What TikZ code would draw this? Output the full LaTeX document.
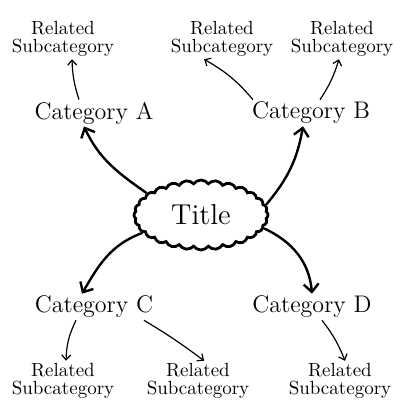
\documentclass[tikz,border=0pt]{standalone}
\usepackage{tikz}
\usetikzlibrary{arrows.meta,shapes.symbols}
\tikzset{
	catnode/.style={font=\large, inner sep=1pt},
	subnode/.style={font=\fontsize{9.5}{9.3}\selectfont, align=center, inner sep=1pt},
	mainarrow/.style={line width=1.2pt, -{Straight Barb[length=4pt,width=7.5pt,line width=1.2pt]}},
	subarrow/.style={line width=0.6pt, -{Straight Barb[length=2.5pt,width=4.5pt]}},
}

\begin{document}
\begin{tikzpicture}[x=0.5pt, y=-0.5pt]
		%%%%% START %%%%%
		
		\useasboundingbox (0, 0) rectangle (408, 413);
		
		\node[cloud, draw, line width=1.4pt, cloud puffs=28, cloud puff arc=110, aspect=2, minimum width=67pt, minimum height=35pt, inner sep=0pt, font=\Large] (title) at (201, 215) {Title};
		
		\node[catnode] (catA) at (94, 113) {Category A};
		\node[catnode] (catB) at (311, 113) {Category B};
		\node[catnode] (catC) at (94, 307) {Category C};
		\node[catnode] (catD) at (312, 307) {Category D};
		
		\node[subnode] (subA) at (63, 39) {Related\\Subcategory};
		\node[subnode] (subBa) at (222, 39) {Related\\Subcategory};
		\node[subnode] (subBb) at (342, 39) {Related\\Subcategory};
		\node[subnode] (subCa) at (63, 381) {Related\\Subcategory};
		\node[subnode] (subCb) at (198, 381) {Related\\Subcategory};
		\node[subnode] (subD) at (340, 381) {Related\\Subcategory};
		
		\draw[mainarrow] (title.158) to[out=145, in=-65] ([xshift=-5pt]catA.south);
		\draw[mainarrow] (title.9) to[out=50, in=-100] ([xshift=-4pt]catB.south);
		\draw[mainarrow] (title.197) to[out=200, in=60] ([xshift=-6pt]catC.north);
		\draw[mainarrow] (title.-12) to[out=-25, in=95] (catD.north);
		
		\draw[subarrow] ([xshift=-7.5pt]catA.north) to[bend left=8] ([xshift=4.5pt]subA.south);
		\draw[subarrow] ([xshift=-29pt]catB.north) to[bend right=10] ([xshift=-9pt]subBa.south);
		\draw[subarrow] ([xshift=4.5pt]catB.north) to[bend right=8] ([xshift=-1.5pt]subBb.south);
		\draw[subarrow] ([xshift=-9pt]catC.south) to[bend right=12] ([xshift=1.5pt]subCa.north);
		\draw[subarrow] ([xshift=25pt]catC.south) to[bend left=3] ([xshift=3pt]subCb.north);
		\draw[subarrow] ([xshift=5pt]catD.south) to[bend left=8] ([xshift=2.5pt]subD.north);
		
		%%%%% END %%%%%
	\end{tikzpicture}
\end{document}
